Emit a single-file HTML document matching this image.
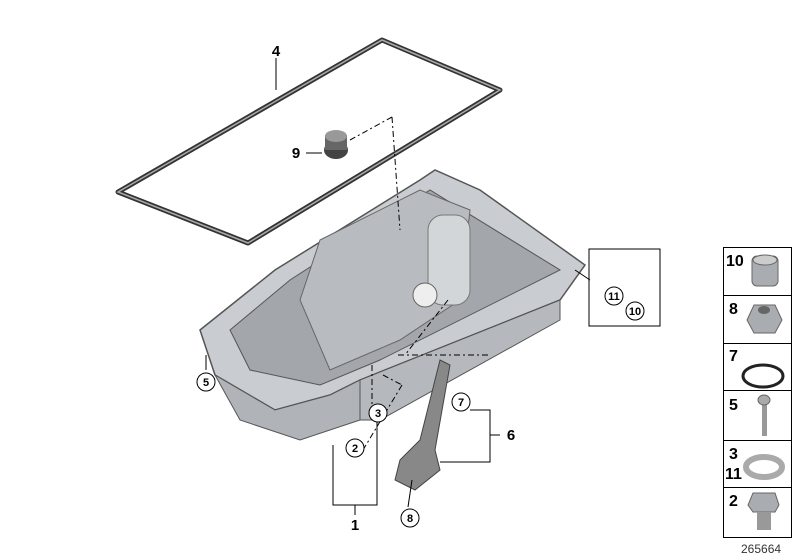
<!DOCTYPE html>
<html><head><style>body{margin:0;background:#fff}svg{display:block}text{font-family:"Liberation Sans",sans-serif;font-weight:bold}</style></head><body>
<svg width="800" height="560" viewBox="0 0 800 560" xmlns="http://www.w3.org/2000/svg">
<!-- gasket -->
<polygon points="118,192 382,40 500,90 248,243" fill="none" stroke="#333" stroke-width="5" stroke-linejoin="round"/>
<polygon points="118,192 382,40 500,90 248,243" fill="none" stroke="#aaa" stroke-width="1.5"/>
<!-- plug 9 -->
<ellipse cx="336" cy="150" rx="12" ry="9" fill="#444"/>
<rect x="325" y="135" width="22" height="15" fill="#666"/>
<ellipse cx="336" cy="136" rx="11" ry="6" fill="#999"/>
<!-- pan -->
<polygon points="200,330 275,270 420,180 435,170 480,190 585,265 560,300 360,380 330,395 275,410 215,375" fill="#c9ccd0" stroke="#555" stroke-width="1.5"/>
<polygon points="230,330 290,280 430,190 560,270 380,360 320,385 250,370" fill="#a3a7ac" stroke="#555"/>
<polygon points="320,240 420,190 470,210 460,300 400,340 330,370 300,300" fill="#b8bcc0" stroke="#666"/>
<polygon points="215,375 275,410 330,395 360,380 360,420 300,440 240,420" fill="#b0b4b8" stroke="#555"/>
<polygon points="360,380 560,300 560,320 380,420 360,420" fill="#b5b9bd" stroke="#555"/>
<rect x="428" y="215" width="42" height="90" rx="15" fill="#d3d6d9" stroke="#777"/>
<circle cx="425" cy="295" r="12" fill="#eee" stroke="#666"/>
<!-- dipstick 8 -->
<polygon points="400,460 420,440 440,360 450,365 435,450 440,470 415,490 395,480" fill="#888" stroke="#444"/>
<!-- dash lines -->
<g stroke="#000" stroke-width="1" fill="none" stroke-dasharray="6,3,2,3">
<line x1="350" y1="140" x2="392" y2="117"/><line x1="392" y1="117" x2="400" y2="230"/>
<line x1="383" y1="375" x2="402" y2="385"/><line x1="402" y1="385" x2="363" y2="450"/>
<line x1="372" y1="365" x2="372" y2="405"/>
<line x1="398" y1="355" x2="490" y2="355"/><line x1="448" y1="300" x2="405" y2="355"/>
</g>
<g stroke="#000" stroke-width="1" fill="none">
<polyline points="276,58 276,90"/>
<line x1="306" y1="153" x2="322" y2="153"/>
<polyline points="333,445 333,505 377,505 377,420"/>
<line x1="355" y1="505" x2="355" y2="515"/>
<polyline points="470,410 490,410 490,462 440,462"/>
<line x1="490" y1="435" x2="500" y2="435"/>
<line x1="206" y1="370" x2="206" y2="355"/>
<line x1="408" y1="507" x2="412" y2="480"/>
<line x1="575" y1="270" x2="590" y2="280"/>
<rect x="589" y="249" width="71" height="77"/>
</g>
<g fill="#fff" stroke="#000" stroke-width="1">
<circle cx="206" cy="382" r="9"/><circle cx="378" cy="413" r="9"/><circle cx="355" cy="448" r="9"/>
<circle cx="461" cy="402" r="9"/><circle cx="410" cy="518" r="9"/><circle cx="614" cy="296" r="9"/><circle cx="635" cy="311" r="9"/>
</g>
<g font-size="11" text-anchor="middle">
<text x="206" y="386">5</text><text x="378" y="417">3</text><text x="355" y="452">2</text><text x="461" y="406">7</text><text x="410" y="522">8</text><text x="614" y="300">11</text><text x="635" y="315">10</text>
</g>
<g font-size="15" text-anchor="middle">
<text x="276" y="56">4</text><text x="296" y="158">9</text><text x="355" y="530">1</text><text x="511" y="440">6</text>
</g>
<!-- legend -->
<g fill="none" stroke="#000" stroke-width="1">
<rect x="723.5" y="247.5" width="68" height="290"/>
<line x1="723" y1="295.5" x2="792" y2="295.5"/><line x1="723" y1="343.5" x2="792" y2="343.5"/>
<line x1="723" y1="390.5" x2="792" y2="390.5"/><line x1="723" y1="440.5" x2="792" y2="440.5"/><line x1="723" y1="487.5" x2="792" y2="487.5"/>
</g>
<g font-size="16">
<text x="726" y="266">10</text><text x="729" y="314">8</text><text x="729" y="361">7</text><text x="729" y="410">5</text><text x="729" y="459">3</text><text x="725" y="479">11</text><text x="729" y="506">2</text>
</g>
<rect x="752" y="256" width="26" height="30" rx="5" fill="#a9adb1" stroke="#666"/>
<ellipse cx="765" cy="260" rx="12" ry="5" fill="#ccc" stroke="#666"/>
<polygon points="754,305 775,305 782,320 775,333 754,333 747,320" fill="#a9adb1" stroke="#666"/>
<ellipse cx="764" cy="310" rx="6" ry="4" fill="#666"/>
<ellipse cx="763" cy="376" rx="20" ry="11" fill="none" stroke="#222" stroke-width="3"/>
<rect x="762" y="398" width="5" height="38" fill="#999"/><ellipse cx="764" cy="400" rx="6" ry="5" fill="#aaa" stroke="#666"/>
<ellipse cx="764" cy="467" rx="18" ry="10" fill="none" stroke="#aaa" stroke-width="6"/>
<polygon points="753,493 775,493 779,505 775,512 753,512 748,505" fill="#a9adb1" stroke="#666"/>
<rect x="757" y="512" width="14" height="18" fill="#999"/>
<text x="741" y="553" font-size="12" style="font-weight:normal" fill="#333">265664</text>
</svg>
</body></html>
